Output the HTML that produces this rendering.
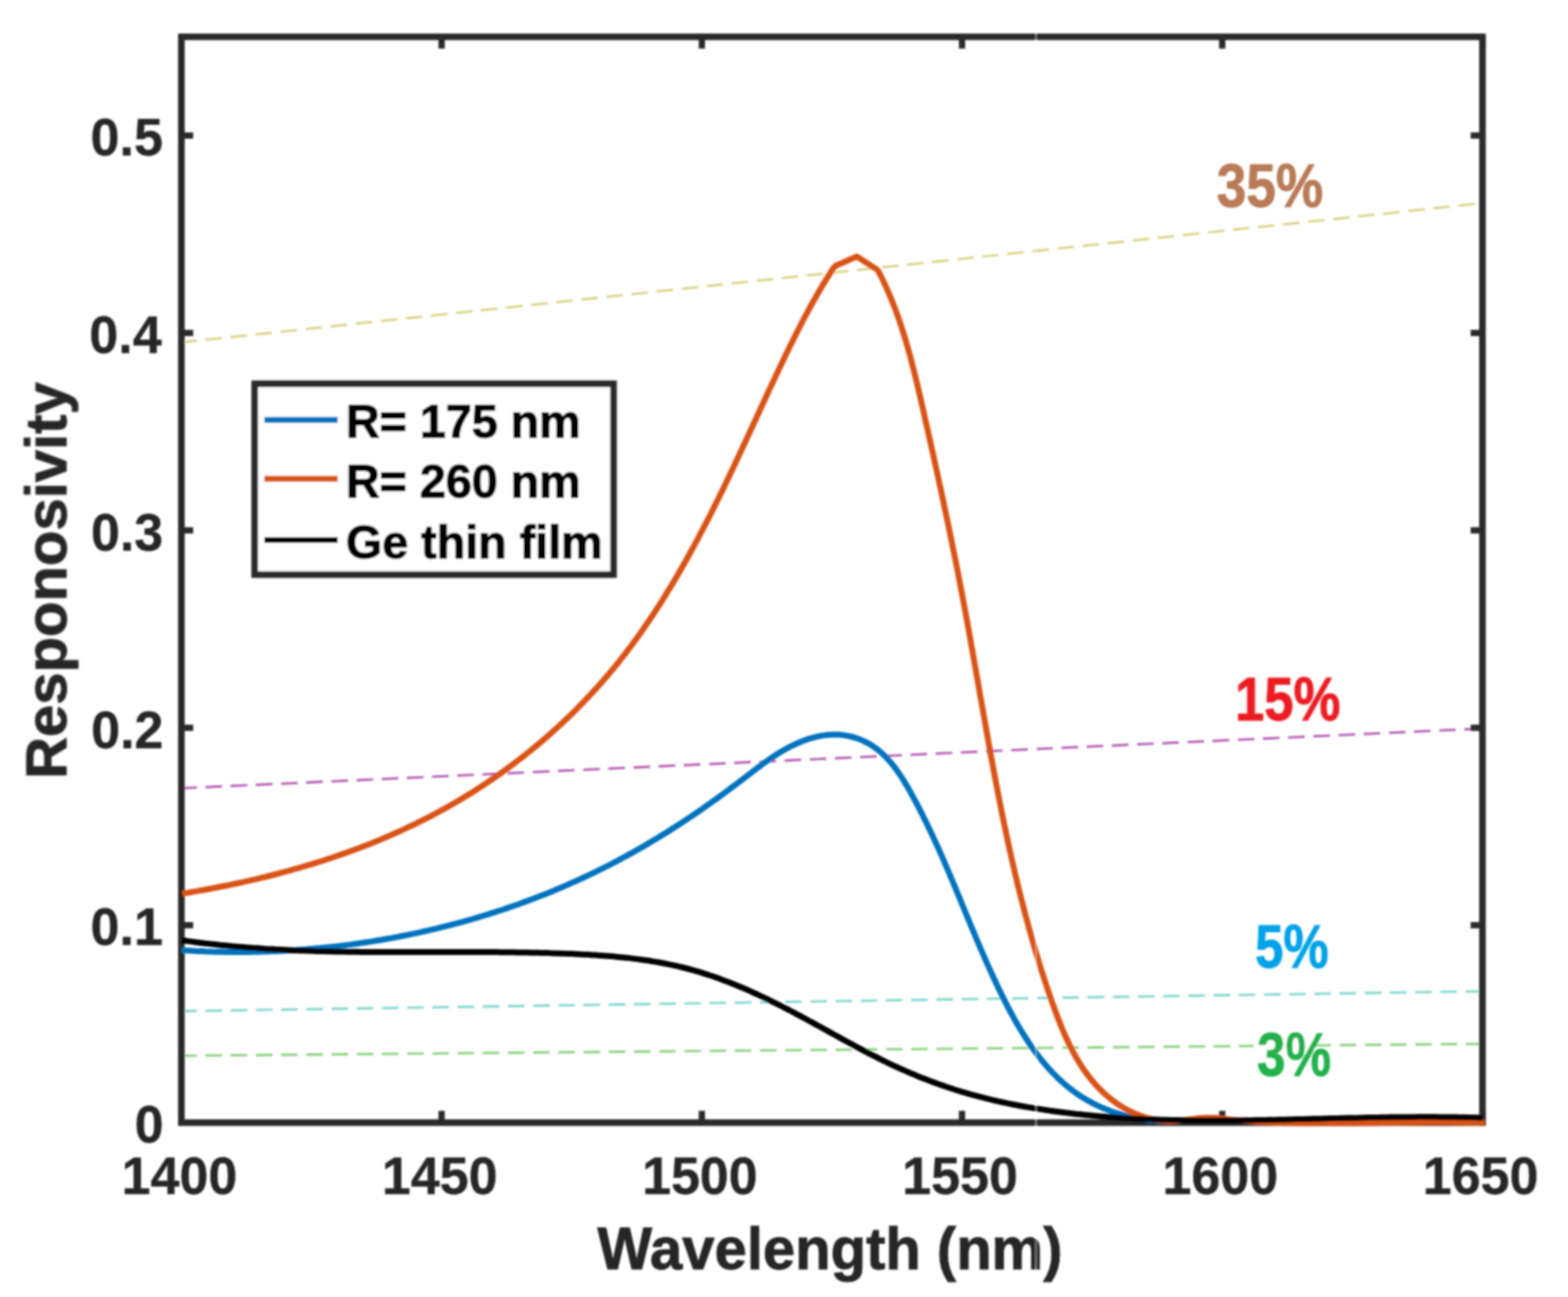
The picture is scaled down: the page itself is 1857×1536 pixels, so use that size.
<!DOCTYPE html>
<html><head><meta charset="utf-8"><title>Responsivity vs wavelength</title>
<style>
html,body{margin:0;padding:0;background:#fff;}
svg{display:block;}
text{font-family:"Liberation Sans",Arial,Helvetica,sans-serif;font-weight:bold;}
</style></head>
<body>
<svg width="1857" height="1536" viewBox="0 0 1857 1536">
<defs><filter id="bl" x="-2%" y="-2%" width="104%" height="104%"><feGaussianBlur stdDeviation="1.1"/></filter></defs>
<rect x="0" y="0" width="1857" height="1536" fill="#fff"/>
<g filter="url(#bl)">
<g id="eqe">
<line x1="214.8" y1="405.5" x2="1755.7" y2="240.5" stroke="#ddd389" stroke-width="2.9" stroke-dasharray="19.6 10.25" stroke-dashoffset="1.25"/>
<line x1="214.8" y1="933.5" x2="1755.7" y2="862.8" stroke="#b862b8" stroke-width="2.9" stroke-dasharray="19.6 10.25" stroke-dashoffset="1.25"/>
<line x1="214.8" y1="1197.5" x2="1755.7" y2="1173.9" stroke="#84d8d0" stroke-width="2.9" stroke-dasharray="19.6 10.25" stroke-dashoffset="1.25"/>
<line x1="214.8" y1="1250.3" x2="1755.7" y2="1236.2" stroke="#8ed482" stroke-width="2.9" stroke-dasharray="19.6 10.25" stroke-dashoffset="1.25"/>
</g>
<g id="axes" stroke="#2b2b2b" stroke-width="7.8" fill="none" stroke-linecap="square">
<rect x="214.8" y="43.6" width="1540.9" height="1285.9"/>
</g>
<g id="ticks" stroke="#2b2b2b" stroke-width="7.4" stroke-linecap="butt">
<line x1="523.0" y1="1329.5" x2="523.0" y2="1315.5"/>
<line x1="523.0" y1="43.6" x2="523.0" y2="57.6"/>
<line x1="831.2" y1="1329.5" x2="831.2" y2="1315.5"/>
<line x1="831.2" y1="43.6" x2="831.2" y2="57.6"/>
<line x1="1139.3" y1="1329.5" x2="1139.3" y2="1315.5"/>
<line x1="1139.3" y1="43.6" x2="1139.3" y2="57.6"/>
<line x1="1447.5" y1="1329.5" x2="1447.5" y2="1315.5"/>
<line x1="1447.5" y1="43.6" x2="1447.5" y2="57.6"/>
<line x1="1755.7" y1="1329.5" x2="1755.7" y2="1315.5"/>
<line x1="1755.7" y1="43.6" x2="1755.7" y2="57.6"/>
<line x1="214.8" y1="1095.7" x2="228.8" y2="1095.7"/>
<line x1="1755.7" y1="1095.7" x2="1741.7" y2="1095.7"/>
<line x1="214.8" y1="861.9" x2="228.8" y2="861.9"/>
<line x1="1755.7" y1="861.9" x2="1741.7" y2="861.9"/>
<line x1="214.8" y1="628.1" x2="228.8" y2="628.1"/>
<line x1="1755.7" y1="628.1" x2="1741.7" y2="628.1"/>
<line x1="214.8" y1="394.3" x2="228.8" y2="394.3"/>
<line x1="1755.7" y1="394.3" x2="1741.7" y2="394.3"/>
<line x1="214.8" y1="160.5" x2="228.8" y2="160.5"/>
<line x1="1755.7" y1="160.5" x2="1741.7" y2="160.5"/>
</g>
<g id="curves" fill="none" stroke-linejoin="round" stroke-linecap="butt">
<path d="M215.3,1125.3 L219.3,1125.6 L223.3,1125.8 L227.2,1126.1 L231.2,1126.3 L235.2,1126.4 L239.2,1126.6 L243.1,1126.8 L247.1,1126.9 L251.1,1127.1 L255.1,1127.2 L259.1,1127.3 L263.0,1127.3 L267.0,1127.4 L271.0,1127.4 L275.0,1127.5 L279.0,1127.5 L283.0,1127.5 L287.0,1127.5 L291.0,1127.4 L295.0,1127.4 L299.0,1127.3 L303.0,1127.3 L307.0,1127.2 L311.0,1127.1 L315.0,1126.9 L319.0,1126.8 L323.1,1126.6 L327.1,1126.4 L331.1,1126.3 L335.1,1126.1 L339.1,1125.8 L343.1,1125.6 L347.1,1125.3 L351.1,1125.1 L355.1,1124.8 L359.1,1124.5 L363.1,1124.2 L367.1,1123.8 L371.2,1123.5 L375.2,1123.1 L379.2,1122.7 L383.2,1122.3 L387.2,1121.9 L391.2,1121.5 L395.2,1121.1 L399.2,1120.6 L403.2,1120.1 L407.2,1119.6 L411.2,1119.1 L415.2,1118.6 L419.2,1118.0 L423.2,1117.5 L427.1,1116.9 L431.1,1116.3 L435.1,1115.7 L439.1,1115.1 L443.1,1114.5 L447.1,1113.8 L451.0,1113.2 L455.0,1112.5 L459.0,1111.8 L462.9,1111.1 L466.9,1110.3 L470.9,1109.6 L474.8,1108.8 L478.8,1108.0 L482.7,1107.2 L486.7,1106.4 L490.6,1105.6 L494.6,1104.8 L498.5,1103.9 L502.4,1103.0 L506.4,1102.1 L510.3,1101.2 L514.2,1100.3 L518.1,1099.4 L522.0,1098.4 L526.0,1097.4 L529.9,1096.4 L533.8,1095.4 L537.7,1094.4 L541.5,1093.4 L545.4,1092.3 L549.3,1091.3 L553.2,1090.2 L557.1,1089.1 L560.9,1088.0 L564.8,1086.8 L568.6,1085.7 L572.5,1084.5 L576.3,1083.3 L580.2,1082.1 L584.0,1080.9 L587.8,1079.7 L591.6,1078.5 L595.5,1077.2 L599.3,1075.9 L603.1,1074.6 L606.9,1073.3 L610.7,1072.0 L614.4,1070.7 L618.2,1069.3 L622.0,1067.9 L625.7,1066.5 L629.5,1065.1 L633.2,1063.7 L637.0,1062.3 L640.7,1060.8 L644.4,1059.4 L648.2,1057.9 L651.9,1056.4 L655.6,1054.9 L659.3,1053.3 L663.0,1051.8 L666.6,1050.2 L670.3,1048.6 L674.0,1047.0 L677.6,1045.4 L681.3,1043.8 L684.9,1042.1 L688.5,1040.5 L692.2,1038.8 L695.8,1037.1 L699.4,1035.4 L703.0,1033.7 L706.6,1031.9 L710.1,1030.2 L713.7,1028.4 L717.3,1026.6 L720.8,1024.8 L724.3,1023.0 L727.9,1021.1 L731.4,1019.3 L734.9,1017.4 L738.4,1015.5 L741.9,1013.6 L745.4,1011.7 L748.9,1009.8 L752.4,1007.8 L755.8,1005.9 L759.3,1003.9 L762.7,1001.9 L766.2,999.9 L769.6,997.8 L773.1,995.8 L776.5,993.7 L779.9,991.7 L783.3,989.6 L786.7,987.5 L790.1,985.4 L793.5,983.2 L796.9,981.1 L800.3,978.9 L803.6,976.8 L807.0,974.6 L810.3,972.4 L813.7,970.1 L817.0,967.9 L820.4,965.7 L823.7,963.4 L827.1,961.1 L830.4,958.8 L833.7,956.5 L837.0,954.2 L840.3,951.8 L843.6,949.5 L846.9,947.1 L850.2,944.8 L853.5,942.4 L856.8,940.0 L860.1,937.5 L863.4,935.1 L866.6,932.6 L869.9,930.2 L873.2,927.7 L876.4,925.2 L879.7,922.7 L883.0,920.2 L886.2,917.7 L889.5,915.2 L892.8,912.7 L896.0,910.2 L899.3,907.8 L902.6,905.3 L905.9,902.9 L909.3,900.6 L912.6,898.2 L916.0,896.0 L919.4,893.8 L922.8,891.6 L926.3,889.5 L929.8,887.5 L933.3,885.6 L936.9,883.7 L940.5,882.0 L944.1,880.3 L947.8,878.7 L951.5,877.3 L955.3,875.9 L959.0,874.7 L962.9,873.6 L966.7,872.6 L970.5,871.8 L974.4,871.1 L978.2,870.6 L982.1,870.2 L986.0,870.0 L989.8,870.0 L993.6,870.1 L997.4,870.4 L1001.2,871.0 L1004.9,871.6 L1008.6,872.5 L1012.3,873.5 L1015.9,874.7 L1019.4,876.1 L1022.9,877.6 L1026.3,879.3 L1029.6,881.1 L1032.9,883.1 L1036.1,885.2 L1039.1,887.5 L1042.1,889.9 L1045.0,892.5 L1047.8,895.2 L1050.6,898.0 L1053.2,901.0 L1055.8,904.0 L1058.3,907.2 L1060.8,910.4 L1063.2,913.7 L1065.5,917.1 L1067.8,920.5 L1070.0,924.0 L1072.1,927.6 L1074.3,931.1 L1076.4,934.8 L1078.4,938.4 L1080.4,942.1 L1082.4,945.7 L1084.4,949.4 L1086.3,953.0 L1088.2,956.7 L1090.1,960.4 L1092.0,964.0 L1093.8,967.7 L1095.6,971.4 L1097.4,975.0 L1099.2,978.7 L1101.0,982.4 L1102.7,986.0 L1104.4,989.7 L1106.1,993.4 L1107.8,997.1 L1109.5,1000.7 L1111.2,1004.4 L1112.8,1008.1 L1114.4,1011.7 L1116.1,1015.4 L1117.7,1019.1 L1119.3,1022.8 L1120.8,1026.4 L1122.4,1030.1 L1124.0,1033.8 L1125.5,1037.5 L1127.1,1041.1 L1128.6,1044.8 L1130.2,1048.5 L1131.7,1052.1 L1133.2,1055.8 L1134.7,1059.5 L1136.3,1063.2 L1137.8,1066.8 L1139.3,1070.5 L1140.8,1074.2 L1142.3,1077.8 L1143.8,1081.5 L1145.3,1085.2 L1146.9,1088.9 L1148.4,1092.5 L1149.9,1096.2 L1151.4,1099.9 L1153.0,1103.5 L1154.5,1107.2 L1156.0,1110.9 L1157.6,1114.5 L1159.1,1118.2 L1160.7,1121.9 L1162.3,1125.5 L1163.9,1129.2 L1165.5,1132.9 L1167.1,1136.5 L1168.7,1140.2 L1170.3,1143.8 L1172.0,1147.5 L1173.6,1151.1 L1175.3,1154.8 L1177.0,1158.5 L1178.7,1162.1 L1180.4,1165.8 L1182.1,1169.4 L1183.9,1173.1 L1185.7,1176.7 L1187.5,1180.4 L1189.3,1184.0 L1191.1,1187.6 L1193.0,1191.3 L1194.9,1194.9 L1196.8,1198.5 L1198.8,1202.1 L1200.7,1205.7 L1202.7,1209.2 L1204.7,1212.8 L1206.8,1216.3 L1208.9,1219.8 L1211.0,1223.3 L1213.2,1226.7 L1215.4,1230.1 L1217.6,1233.5 L1219.8,1236.9 L1222.1,1240.2 L1224.5,1243.5 L1226.8,1246.7 L1229.2,1249.9 L1231.7,1253.1 L1234.2,1256.2 L1236.7,1259.3 L1239.3,1262.3 L1241.9,1265.3 L1244.6,1268.2 L1247.3,1271.1 L1250.1,1273.9 L1252.9,1276.7 L1255.8,1279.4 L1258.7,1282.0 L1261.7,1284.6 L1264.7,1287.1 L1267.8,1289.6 L1270.9,1291.9 L1274.1,1294.3 L1277.3,1296.5 L1280.6,1298.7 L1284.0,1300.8 L1287.4,1302.8 L1290.9,1304.7 L1294.4,1306.6 L1298.0,1308.4 L1301.6,1310.1 L1305.2,1311.7 L1308.9,1313.3 L1312.7,1314.8 L1316.4,1316.2 L1320.3,1317.5 L1324.1,1318.7 L1328.0,1319.9 L1331.9,1321.0 L1335.8,1322.0 L1339.8,1322.9 L1343.7,1323.8 L1347.7,1324.5 L1351.7,1325.2 L1355.7,1325.8 L1359.8,1326.3 L1363.8,1326.8 L1367.9,1327.1 L1371.9,1327.4 L1376.0,1327.6 L1380.1,1327.7 L1384.1,1327.7 L1388.2,1327.6 L1392.2,1327.5 L1396.2,1327.2 L1400.3,1326.9" stroke="#0072bd" stroke-width="7"/>
<path d="M216.0,1058.3 L219.9,1057.6 L223.9,1057.0 L227.8,1056.3 L231.7,1055.6 L235.7,1054.9 L239.6,1054.2 L243.6,1053.5 L247.5,1052.8 L251.5,1052.0 L255.4,1051.3 L259.3,1050.5 L263.3,1049.7 L267.2,1049.0 L271.2,1048.2 L275.1,1047.3 L279.0,1046.5 L282.9,1045.7 L286.9,1044.8 L290.8,1043.9 L294.7,1043.1 L298.6,1042.2 L302.5,1041.3 L306.4,1040.3 L310.4,1039.4 L314.3,1038.5 L318.2,1037.5 L322.1,1036.5 L325.9,1035.5 L329.8,1034.5 L333.7,1033.5 L337.6,1032.4 L341.5,1031.4 L345.3,1030.3 L349.2,1029.2 L353.1,1028.1 L356.9,1027.0 L360.8,1025.9 L364.6,1024.7 L368.5,1023.6 L372.3,1022.4 L376.2,1021.2 L380.0,1020.0 L383.8,1018.8 L387.6,1017.5 L391.4,1016.3 L395.2,1015.0 L399.0,1013.7 L402.8,1012.4 L406.6,1011.1 L410.4,1009.8 L414.2,1008.4 L417.9,1007.0 L421.7,1005.6 L425.5,1004.2 L429.2,1002.8 L432.9,1001.4 L436.7,999.9 L440.4,998.4 L444.1,996.9 L447.8,995.4 L451.5,993.9 L455.2,992.3 L458.9,990.7 L462.6,989.1 L466.3,987.5 L469.9,985.9 L473.6,984.3 L477.2,982.6 L480.9,980.9 L484.5,979.2 L488.1,977.5 L491.7,975.8 L495.3,974.0 L498.9,972.2 L502.5,970.4 L506.1,968.6 L509.6,966.8 L513.2,964.9 L516.7,963.0 L520.2,961.1 L523.8,959.2 L527.3,957.3 L530.8,955.3 L534.3,953.3 L537.7,951.3 L541.2,949.3 L544.7,947.2 L548.1,945.2 L551.6,943.1 L555.0,941.0 L558.4,938.9 L561.8,936.7 L565.2,934.6 L568.6,932.4 L571.9,930.2 L575.3,928.0 L578.6,925.7 L581.9,923.5 L585.3,921.2 L588.6,918.9 L591.9,916.6 L595.1,914.2 L598.4,911.9 L601.6,909.5 L604.9,907.1 L608.1,904.7 L611.3,902.3 L614.5,899.8 L617.7,897.4 L620.9,894.9 L624.0,892.4 L627.1,889.9 L630.3,887.3 L633.4,884.8 L636.5,882.2 L639.6,879.6 L642.6,877.0 L645.7,874.4 L648.7,871.8 L651.7,869.1 L654.7,866.4 L657.7,863.7 L660.7,861.0 L663.6,858.3 L666.6,855.6 L669.5,852.8 L672.4,850.0 L675.3,847.2 L678.2,844.4 L681.0,841.6 L683.9,838.8 L686.7,835.9 L689.5,833.0 L692.3,830.1 L695.0,827.2 L697.8,824.3 L700.5,821.4 L703.2,818.4 L705.9,815.5 L708.6,812.5 L711.3,809.5 L713.9,806.5 L716.5,803.5 L719.2,800.4 L721.7,797.4 L724.3,794.3 L726.9,791.2 L729.4,788.1 L731.9,785.0 L734.4,781.9 L736.9,778.7 L739.3,775.6 L741.8,772.4 L744.2,769.2 L746.6,766.0 L749.0,762.8 L751.3,759.6 L753.7,756.4 L756.0,753.1 L758.4,749.9 L760.7,746.6 L763.0,743.3 L765.2,740.0 L767.5,736.7 L769.7,733.4 L772.0,730.1 L774.2,726.7 L776.4,723.4 L778.5,720.0 L780.7,716.7 L782.9,713.3 L785.0,709.9 L787.1,706.5 L789.2,703.1 L791.3,699.7 L793.4,696.2 L795.5,692.8 L797.6,689.4 L799.6,685.9 L801.7,682.5 L803.7,679.0 L805.7,675.5 L807.7,672.0 L809.7,668.5 L811.7,665.0 L813.6,661.5 L815.6,658.0 L817.5,654.5 L819.4,651.0 L821.4,647.4 L823.3,643.9 L825.2,640.4 L827.1,636.8 L829.0,633.2 L830.8,629.7 L832.7,626.1 L834.5,622.5 L836.4,619.0 L838.2,615.4 L840.1,611.8 L841.9,608.2 L843.7,604.6 L845.5,601.0 L847.3,597.4 L849.1,593.8 L850.9,590.2 L852.6,586.6 L854.4,583.0 L856.2,579.4 L857.9,575.7 L859.7,572.1 L861.4,568.5 L863.1,564.9 L864.9,561.2 L866.6,557.6 L868.3,554.0 L870.0,550.3 L871.7,546.7 L873.4,543.1 L875.1,539.4 L876.8,535.8 L878.5,532.2 L880.2,528.5 L881.9,524.9 L883.6,521.2 L885.3,517.6 L887.0,514.0 L888.6,510.3 L890.3,506.7 L892.0,503.1 L893.7,499.4 L895.3,495.8 L897.0,492.1 L898.7,488.5 L900.3,484.9 L902.0,481.2 L903.7,477.6 L905.4,474.0 L907.1,470.3 L908.7,466.7 L910.4,463.1 L912.1,459.4 L913.8,455.8 L915.5,452.2 L917.2,448.6 L918.9,444.9 L920.6,441.3 L922.3,437.7 L924.0,434.1 L925.7,430.5 L927.5,426.8 L929.2,423.2 L930.9,419.6 L932.7,416.0 L934.4,412.4 L936.2,408.8 L938.0,405.2 L939.7,401.6 L941.5,398.1 L943.3,394.5 L945.1,390.9 L947.0,387.3 L948.8,383.8 L950.6,380.2 L952.5,376.6 L954.4,373.1 L956.3,369.6 L958.2,366.0 L960.1,362.5 L962.0,359.0 L964.0,355.5 L966.0,352.0 L968.0,348.5 L970.0,345.0 L972.0,341.6 L974.1,338.1 L976.2,334.7 L978.3,331.2 L980.4,327.8 L982.6,324.4 L984.7,321.0 L986.9,317.6 L989.7,314.7 L1014.7,303.8 L1038.9,319.4 L1041.0,322.7 L1042.9,326.3 L1044.7,330.0 L1046.5,333.6 L1048.2,337.3 L1049.9,340.9 L1051.5,344.6 L1053.1,348.3 L1054.7,352.0 L1056.2,355.7 L1057.7,359.4 L1059.1,363.2 L1060.6,366.9 L1061.9,370.7 L1063.3,374.4 L1064.6,378.2 L1065.9,382.0 L1067.2,385.8 L1068.4,389.6 L1069.6,393.4 L1070.8,397.2 L1072.0,401.0 L1073.1,404.8 L1074.2,408.7 L1075.3,412.5 L1076.4,416.3 L1077.5,420.2 L1078.5,424.1 L1079.5,427.9 L1080.5,431.8 L1081.5,435.7 L1082.5,439.6 L1083.4,443.4 L1084.4,447.3 L1085.3,451.2 L1086.3,455.1 L1087.2,459.0 L1088.1,462.9 L1089.0,466.8 L1089.9,470.7 L1090.8,474.6 L1091.7,478.5 L1092.6,482.5 L1093.5,486.4 L1094.4,490.3 L1095.2,494.2 L1096.1,498.1 L1097.0,502.0 L1097.9,505.9 L1098.8,509.9 L1099.7,513.8 L1100.5,517.7 L1101.4,521.6 L1102.3,525.5 L1103.2,529.5 L1104.0,533.4 L1104.9,537.3 L1105.8,541.2 L1106.6,545.2 L1107.5,549.1 L1108.4,553.0 L1109.2,557.0 L1110.1,560.9 L1110.9,564.8 L1111.8,568.7 L1112.6,572.7 L1113.5,576.6 L1114.3,580.5 L1115.2,584.5 L1116.0,588.4 L1116.9,592.3 L1117.7,596.3 L1118.5,600.2 L1119.4,604.2 L1120.2,608.1 L1121.0,612.0 L1121.9,616.0 L1122.7,619.9 L1123.5,623.8 L1124.3,627.8 L1125.1,631.7 L1125.9,635.7 L1126.7,639.6 L1127.5,643.5 L1128.3,647.5 L1129.1,651.4 L1129.9,655.4 L1130.7,659.3 L1131.5,663.3 L1132.3,667.2 L1133.1,671.1 L1133.9,675.1 L1134.6,679.0 L1135.4,683.0 L1136.2,686.9 L1136.9,690.9 L1137.7,694.8 L1138.4,698.7 L1139.2,702.7 L1139.9,706.6 L1140.7,710.6 L1141.4,714.5 L1142.2,718.5 L1142.9,722.4 L1143.6,726.4 L1144.3,730.3 L1145.1,734.2 L1145.8,738.2 L1146.5,742.1 L1147.2,746.1 L1147.9,750.0 L1148.6,754.0 L1149.3,757.9 L1150.0,761.8 L1150.7,765.8 L1151.4,769.7 L1152.1,773.7 L1152.8,777.6 L1153.5,781.6 L1154.2,785.5 L1154.9,789.4 L1155.6,793.4 L1156.3,797.3 L1157.0,801.3 L1157.7,805.2 L1158.4,809.1 L1159.1,813.1 L1159.7,817.0 L1160.4,821.0 L1161.1,824.9 L1161.8,828.8 L1162.5,832.8 L1163.2,836.7 L1163.9,840.7 L1164.6,844.6 L1165.3,848.5 L1166.0,852.5 L1166.7,856.4 L1167.4,860.3 L1168.1,864.3 L1168.8,868.2 L1169.5,872.1 L1170.2,876.1 L1170.9,880.0 L1171.6,883.9 L1172.3,887.9 L1173.0,891.8 L1173.7,895.7 L1174.5,899.7 L1175.2,903.6 L1175.9,907.5 L1176.6,911.4 L1177.4,915.4 L1178.1,919.3 L1178.9,923.2 L1179.6,927.2 L1180.4,931.1 L1181.1,935.0 L1181.9,938.9 L1182.6,942.9 L1183.4,946.8 L1184.2,950.7 L1185.0,954.6 L1185.7,958.5 L1186.5,962.5 L1187.3,966.4 L1188.1,970.3 L1188.9,974.2 L1189.7,978.1 L1190.6,982.0 L1191.4,986.0 L1192.2,989.9 L1193.1,993.8 L1193.9,997.7 L1194.7,1001.6 L1195.6,1005.5 L1196.5,1009.4 L1197.3,1013.3 L1198.2,1017.2 L1199.1,1021.1 L1200.0,1025.0 L1200.9,1028.9 L1201.8,1032.8 L1202.7,1036.7 L1203.7,1040.7 L1204.6,1044.6 L1205.5,1048.4 L1206.5,1052.3 L1207.4,1056.2 L1208.4,1060.1 L1209.4,1064.0 L1210.4,1067.9 L1211.4,1071.8 L1212.4,1075.7 L1213.4,1079.6 L1214.4,1083.5 L1215.5,1087.4 L1216.5,1091.3 L1217.6,1095.1 L1218.6,1099.0 L1219.7,1102.9 L1220.8,1106.8 L1221.9,1110.7 L1223.0,1114.5 L1224.1,1118.4 L1225.3,1122.3 L1226.4,1126.2 L1227.6,1130.1 L1228.7,1133.9 L1229.9,1137.8 L1231.1,1141.7 L1232.3,1145.5 L1233.5,1149.4 L1234.8,1153.3 L1236.0,1157.1 L1237.3,1161.0 L1238.5,1164.8 L1239.8,1168.7 L1241.1,1172.6 L1242.4,1176.4 L1243.7,1180.3 L1245.1,1184.1 L1246.4,1188.0 L1247.8,1191.8 L1249.2,1195.7 L1250.6,1199.5 L1252.0,1203.3 L1253.5,1207.1 L1255.0,1210.9 L1256.5,1214.6 L1258.0,1218.4 L1259.6,1222.1 L1261.2,1225.8 L1262.9,1229.5 L1264.6,1233.1 L1266.3,1236.7 L1268.1,1240.3 L1269.9,1243.8 L1271.8,1247.3 L1273.7,1250.8 L1275.6,1254.2 L1277.7,1257.6 L1279.7,1260.9 L1281.9,1264.2 L1284.1,1267.5 L1286.3,1270.6 L1288.6,1273.8 L1291.0,1276.8 L1293.5,1279.9 L1296.0,1282.8 L1298.6,1285.7 L1301.3,1288.5 L1304.0,1291.3 L1306.8,1294.0 L1309.7,1296.6 L1312.7,1299.1 L1315.7,1301.6 L1318.9,1304.0 L1322.1,1306.3 L1325.4,1308.6 L1328.8,1310.7 L1332.3,1312.8 L1335.8,1314.7 L1339.4,1316.5 L1343.1,1318.3 L1346.9,1319.9 L1350.7,1321.3 L1354.5,1322.7 L1358.4,1323.9 L1362.3,1324.9 L1366.2,1325.8 L1370.2,1326.5 L1374.2,1327.0 L1378.2,1327.4 L1382.3,1327.6 L1386.3,1327.6 L1390.3,1327.4 L1394.4,1327.2 L1398.4,1326.8 L1402.4,1326.4 L1406.5,1325.9 L1410.5,1325.4 L1414.5,1325.0 L1418.5,1324.5 L1422.5,1324.1 L1426.5,1323.9 L1430.4,1323.7 L1434.4,1323.7 L1438.3,1323.8 L1442.2,1324.1 L1446.1,1324.4 L1450.0,1324.9 L1453.8,1325.4 L1457.7,1325.9 L1461.6,1326.3 L1465.5,1326.7 L1469.5,1327.1 L1473.4,1327.5 L1477.4,1327.8 L1481.3,1328.1 L1485.3,1328.3 L1489.3,1328.5 L1493.2,1328.7 L1497.2,1328.9 L1501.2,1329.1 L1505.2,1329.2 L1509.2,1329.4 L1513.2,1329.5 L1517.3,1329.6 L1521.3,1329.7 L1525.3,1329.7 L1529.3,1329.8 L1533.3,1329.9 L1537.3,1329.9 L1541.3,1330.0 L1545.3,1330.0 L1549.4,1330.0 L1553.4,1330.1 L1557.4,1330.1 L1561.4,1330.1 L1565.4,1330.1 L1569.4,1330.1 L1573.4,1330.1 L1577.4,1330.1 L1581.5,1330.1 L1585.5,1330.1 L1589.5,1330.0 L1593.5,1330.0 L1597.5,1330.0 L1601.5,1329.9 L1605.5,1329.9 L1609.6,1329.9 L1613.6,1329.8 L1617.6,1329.8 L1621.6,1329.7 L1625.6,1329.7 L1629.6,1329.7 L1633.6,1329.6 L1637.7,1329.6 L1641.7,1329.5 L1645.7,1329.5 L1649.7,1329.4 L1653.7,1329.4 L1657.7,1329.4 L1661.7,1329.3 L1665.8,1329.3 L1669.8,1329.2 L1673.8,1329.2 L1677.8,1329.2 L1681.8,1329.2 L1685.8,1329.1 L1689.8,1329.1 L1693.8,1329.1 L1697.9,1329.1 L1701.9,1329.1 L1705.9,1329.1 L1709.9,1329.1 L1713.9,1329.1 L1717.9,1329.1 L1721.9,1329.2 L1725.9,1329.2 L1729.9,1329.3 L1733.9,1329.3 L1738.0,1329.4 L1742.0,1329.4 L1746.0,1329.5 L1750.0,1329.6 L1754.0,1329.7 L1758.0,1329.8" stroke="#d95319" stroke-width="7"/>
<path d="M215.2,1113.4 L219.2,1114.0 L223.2,1114.6 L227.2,1115.1 L231.2,1115.7 L235.1,1116.2 L239.1,1116.7 L243.1,1117.2 L247.1,1117.6 L251.1,1118.1 L255.2,1118.5 L259.2,1119.0 L263.2,1119.4 L267.2,1119.8 L271.2,1120.2 L275.2,1120.6 L279.2,1120.9 L283.2,1121.3 L287.2,1121.6 L291.2,1121.9 L295.2,1122.2 L299.2,1122.6 L303.2,1122.8 L307.2,1123.1 L311.2,1123.4 L315.2,1123.7 L319.2,1123.9 L323.2,1124.1 L327.2,1124.4 L331.2,1124.6 L335.2,1124.8 L339.2,1125.0 L343.2,1125.2 L347.2,1125.4 L351.3,1125.5 L355.3,1125.7 L359.3,1125.8 L363.3,1126.0 L367.3,1126.1 L371.3,1126.3 L375.3,1126.4 L379.3,1126.5 L383.3,1126.6 L387.3,1126.7 L391.3,1126.8 L395.4,1126.9 L399.4,1127.0 L403.4,1127.0 L407.4,1127.1 L411.4,1127.2 L415.4,1127.2 L419.4,1127.3 L423.4,1127.3 L427.4,1127.4 L431.5,1127.4 L435.5,1127.4 L439.5,1127.5 L443.5,1127.5 L447.5,1127.5 L451.5,1127.5 L455.5,1127.6 L459.6,1127.6 L463.6,1127.6 L467.6,1127.6 L471.6,1127.6 L475.6,1127.6 L479.6,1127.6 L483.7,1127.6 L487.7,1127.6 L491.7,1127.6 L495.7,1127.6 L499.7,1127.6 L503.7,1127.6 L507.8,1127.6 L511.8,1127.5 L515.8,1127.5 L519.8,1127.5 L523.8,1127.5 L527.9,1127.5 L531.9,1127.5 L535.9,1127.5 L539.9,1127.5 L543.9,1127.5 L548.0,1127.5 L552.0,1127.5 L556.0,1127.5 L560.0,1127.5 L564.0,1127.5 L568.1,1127.5 L572.1,1127.5 L576.1,1127.6 L580.1,1127.6 L584.2,1127.6 L588.2,1127.6 L592.2,1127.7 L596.2,1127.7 L600.3,1127.7 L604.3,1127.8 L608.3,1127.8 L612.3,1127.9 L616.4,1127.9 L620.4,1128.0 L624.4,1128.1 L628.4,1128.2 L632.5,1128.2 L636.5,1128.3 L640.5,1128.4 L644.5,1128.5 L648.6,1128.6 L652.6,1128.8 L656.6,1128.9 L660.7,1129.0 L664.7,1129.2 L668.7,1129.3 L672.7,1129.5 L676.8,1129.6 L680.8,1129.8 L684.8,1130.0 L688.9,1130.2 L692.9,1130.4 L696.9,1130.6 L700.9,1130.9 L705.0,1131.1 L709.0,1131.4 L713.0,1131.7 L717.0,1132.0 L721.0,1132.3 L725.0,1132.6 L729.0,1133.0 L733.0,1133.4 L737.0,1133.8 L741.0,1134.2 L745.0,1134.6 L749.0,1135.1 L753.0,1135.6 L756.9,1136.1 L760.9,1136.7 L764.8,1137.2 L768.8,1137.8 L772.7,1138.5 L776.7,1139.1 L780.6,1139.8 L784.5,1140.5 L788.4,1141.3 L792.3,1142.1 L796.2,1142.9 L800.1,1143.7 L803.9,1144.6 L807.8,1145.5 L811.6,1146.5 L815.5,1147.5 L819.3,1148.5 L823.1,1149.6 L826.9,1150.7 L830.7,1151.9 L834.5,1153.1 L838.3,1154.3 L842.1,1155.5 L845.8,1156.8 L849.6,1158.1 L853.3,1159.5 L857.0,1160.9 L860.7,1162.3 L864.5,1163.7 L868.2,1165.2 L871.9,1166.7 L875.5,1168.2 L879.2,1169.8 L882.9,1171.3 L886.5,1172.9 L890.2,1174.6 L893.8,1176.2 L897.5,1177.9 L901.1,1179.6 L904.7,1181.3 L908.3,1183.0 L911.9,1184.8 L915.5,1186.6 L919.1,1188.3 L922.7,1190.1 L926.3,1192.0 L929.9,1193.8 L933.5,1195.7 L937.0,1197.5 L940.6,1199.4 L944.1,1201.3 L947.7,1203.2 L951.2,1205.1 L954.8,1207.0 L958.3,1209.0 L961.9,1210.9 L965.4,1212.8 L969.0,1214.8 L972.5,1216.7 L976.0,1218.7 L979.6,1220.6 L983.1,1222.6 L986.6,1224.5 L990.2,1226.5 L993.7,1228.4 L997.2,1230.4 L1000.8,1232.3 L1004.3,1234.3 L1007.9,1236.2 L1011.4,1238.1 L1015.0,1240.0 L1018.5,1241.9 L1022.1,1243.8 L1025.6,1245.7 L1029.2,1247.5 L1032.8,1249.4 L1036.4,1251.2 L1040.0,1253.0 L1043.6,1254.8 L1047.2,1256.6 L1050.8,1258.3 L1054.4,1260.1 L1058.0,1261.8 L1061.7,1263.5 L1065.3,1265.2 L1069.0,1266.8 L1072.7,1268.4 L1076.3,1270.0 L1080.0,1271.6 L1083.7,1273.1 L1087.4,1274.7 L1091.1,1276.2 L1094.9,1277.6 L1098.6,1279.1 L1102.3,1280.5 L1106.1,1281.9 L1109.8,1283.3 L1113.6,1284.6 L1117.4,1285.9 L1121.2,1287.2 L1125.0,1288.5 L1128.8,1289.7 L1132.6,1291.0 L1136.4,1292.1 L1140.3,1293.3 L1144.1,1294.4 L1147.9,1295.6 L1151.8,1296.6 L1155.7,1297.7 L1159.5,1298.7 L1163.4,1299.7 L1167.3,1300.7 L1171.2,1301.7 L1175.1,1302.6 L1179.0,1303.5 L1182.9,1304.4 L1186.8,1305.2 L1190.8,1306.1 L1194.7,1306.9 L1198.6,1307.7 L1202.6,1308.5 L1206.5,1309.2 L1210.5,1310.0 L1214.4,1310.7 L1218.4,1311.4 L1222.3,1312.0 L1226.3,1312.7 L1230.3,1313.3 L1234.2,1313.9 L1238.2,1314.5 L1242.2,1315.1 L1246.2,1315.7 L1250.1,1316.2 L1254.1,1316.7 L1258.1,1317.3 L1262.1,1317.8 L1266.1,1318.2 L1270.1,1318.7 L1274.1,1319.2 L1278.0,1319.6 L1282.0,1320.0 L1286.0,1320.4 L1290.0,1320.8 L1294.0,1321.2 L1298.0,1321.6 L1302.0,1321.9 L1306.0,1322.2 L1310.0,1322.6 L1314.0,1322.9 L1318.0,1323.2 L1322.0,1323.5 L1326.0,1323.7 L1330.0,1324.0 L1334.0,1324.2 L1338.0,1324.5 L1342.0,1324.7 L1346.0,1324.9 L1350.0,1325.1 L1354.0,1325.3 L1358.0,1325.5 L1362.0,1325.6 L1366.0,1325.8 L1370.1,1325.9 L1374.1,1326.1 L1378.1,1326.2 L1382.1,1326.3 L1386.1,1326.4 L1390.1,1326.5 L1394.1,1326.6 L1398.1,1326.7 L1402.2,1326.8 L1406.2,1326.8 L1410.2,1326.9 L1414.2,1326.9 L1418.2,1327.0 L1422.2,1327.0 L1426.3,1327.0 L1430.3,1327.0 L1434.3,1327.0 L1438.3,1327.0 L1442.3,1327.0 L1446.4,1327.0 L1450.4,1327.0 L1454.4,1327.0 L1458.4,1327.0 L1462.5,1326.9 L1466.5,1326.9 L1470.5,1326.9 L1474.5,1326.8 L1478.5,1326.7 L1482.6,1326.7 L1486.6,1326.6 L1490.6,1326.6 L1494.6,1326.5 L1498.7,1326.4 L1502.7,1326.3 L1506.7,1326.3 L1510.7,1326.2 L1514.8,1326.1 L1518.8,1326.0 L1522.8,1325.9 L1526.8,1325.8 L1530.9,1325.7 L1534.9,1325.6 L1538.9,1325.5 L1542.9,1325.4 L1547.0,1325.3 L1551.0,1325.2 L1555.0,1325.1 L1559.0,1325.0 L1563.0,1324.9 L1567.1,1324.8 L1571.1,1324.7 L1575.1,1324.6 L1579.1,1324.5 L1583.2,1324.4 L1587.2,1324.3 L1591.2,1324.2 L1595.2,1324.1 L1599.2,1324.1 L1603.3,1324.0 L1607.3,1323.9 L1611.3,1323.8 L1615.3,1323.7 L1619.3,1323.6 L1623.3,1323.5 L1627.4,1323.5 L1631.4,1323.4 L1635.4,1323.3 L1639.4,1323.2 L1643.4,1323.2 L1647.4,1323.1 L1651.5,1323.1 L1655.5,1323.0 L1659.5,1323.0 L1663.5,1322.9 L1667.5,1322.9 L1671.5,1322.9 L1675.5,1322.9 L1679.5,1322.8 L1683.5,1322.8 L1687.5,1322.8 L1691.6,1322.8 L1695.6,1322.8 L1699.6,1322.8 L1703.6,1322.9 L1707.6,1322.9 L1711.6,1322.9 L1715.6,1323.0 L1719.6,1323.0 L1723.6,1323.1 L1727.6,1323.2 L1731.6,1323.2 L1735.6,1323.3 L1739.5,1323.4 L1743.5,1323.5 L1747.5,1323.6 L1751.5,1323.8 L1755.5,1323.9" stroke="#000" stroke-width="7"/>

</g>
<g id="legend">
<rect x="301.6" y="454.5" width="425" height="226" fill="#fff" stroke="#2b2b2b" stroke-width="7.8"/>
<line x1="313" y1="497.2" x2="400" y2="497.2" stroke="#0072bd" stroke-width="7"/>
<line x1="313" y1="567" x2="400" y2="567" stroke="#d95319" stroke-width="7"/>
<line x1="313" y1="639.5" x2="400" y2="639.5" stroke="#000" stroke-width="7"/>
</g>
<g id="texts">
<rect x="1485" y="1229" width="73" height="18" fill="#fff"/>
<text transform="translate(707.60,1503.20) scale(0.9885,1)" font-size="69.48" fill="#282828" stroke="#282828" stroke-width="1.00" stroke-linejoin="round">Wavelength (nm)</text>
<text transform="translate(78.50,922.37) rotate(-90) scale(0.9954,1)" font-size="69.04" fill="#282828" stroke="#282828" stroke-width="1.00" stroke-linejoin="round">Responosivity</text>
<text transform="translate(1440.92,245.28) scale(0.8740,1)" font-size="72.11" fill="#b97a57" stroke="#b97a57" stroke-width="1.00" stroke-linejoin="round">35%</text>
<text transform="translate(1462.64,853.37) scale(0.8577,1)" font-size="72.77" fill="#ed1c24" stroke="#ed1c24" stroke-width="1.00" stroke-linejoin="round">15%</text>
<text transform="translate(1486.49,1145.77) scale(0.8227,1)" font-size="73.19" fill="#00a2e8" stroke="#00a2e8" stroke-width="1.00" stroke-linejoin="round">5%</text>
<text transform="translate(1488.79,1274.27) scale(0.8335,1)" font-size="72.68" fill="#22b14c" stroke="#22b14c" stroke-width="1.00" stroke-linejoin="round">3%</text>
<text transform="translate(409.70,518.40) scale(0.9960,1)" font-size="55.50" fill="#000" stroke="#000" stroke-width="1.40" stroke-linejoin="round">R= 175 nm</text>
<text transform="translate(409.70,588.60) scale(0.9960,1)" font-size="55.50" fill="#000" stroke="#000" stroke-width="1.40" stroke-linejoin="round">R= 260 nm</text>
<text transform="translate(409.70,660.60) scale(0.9960,1)" font-size="55.50" fill="#000" stroke="#000" stroke-width="1.40" stroke-linejoin="round">Ge thin film</text>
<text transform="translate(159.39,1353.22) scale(0.9780,1)" font-size="62.95" fill="#282828" stroke="#282828" stroke-width="0.40" stroke-linejoin="round">0</text>
<text transform="translate(107.37,1119.42) scale(0.9780,1)" font-size="62.95" fill="#282828" stroke="#282828" stroke-width="0.40" stroke-linejoin="round">0.1</text>
<text transform="translate(107.99,885.62) scale(0.9780,1)" font-size="62.95" fill="#282828" stroke="#282828" stroke-width="0.40" stroke-linejoin="round">0.2</text>
<text transform="translate(107.68,651.82) scale(0.9780,1)" font-size="62.95" fill="#282828" stroke="#282828" stroke-width="0.40" stroke-linejoin="round">0.3</text>
<text transform="translate(105.83,418.02) scale(0.9780,1)" font-size="62.95" fill="#282828" stroke="#282828" stroke-width="0.40" stroke-linejoin="round">0.4</text>
<text transform="translate(107.37,184.22) scale(0.9780,1)" font-size="62.95" fill="#282828" stroke="#282828" stroke-width="0.40" stroke-linejoin="round">0.5</text>
<text transform="translate(144.04,1413.57) scale(0.9780,1)" font-size="62.95" fill="#282828" stroke="#282828" stroke-width="0.40" stroke-linejoin="round">1400</text>
<text transform="translate(452.22,1413.57) scale(0.9780,1)" font-size="62.95" fill="#282828" stroke="#282828" stroke-width="0.40" stroke-linejoin="round">1450</text>
<text transform="translate(760.40,1413.57) scale(0.9780,1)" font-size="62.95" fill="#282828" stroke="#282828" stroke-width="0.40" stroke-linejoin="round">1500</text>
<text transform="translate(1068.58,1413.57) scale(0.9780,1)" font-size="62.95" fill="#282828" stroke="#282828" stroke-width="0.40" stroke-linejoin="round">1550</text>
<text transform="translate(1376.76,1413.57) scale(0.9780,1)" font-size="62.95" fill="#282828" stroke="#282828" stroke-width="0.40" stroke-linejoin="round">1600</text>
<text transform="translate(1684.94,1413.57) scale(0.9780,1)" font-size="62.95" fill="#282828" stroke="#282828" stroke-width="0.40" stroke-linejoin="round">1650</text>
</g>
<rect x="1226" y="0" width="1.8" height="1536" fill="#fff" opacity="0.4"/>
</g>
</svg>
</body></html>
